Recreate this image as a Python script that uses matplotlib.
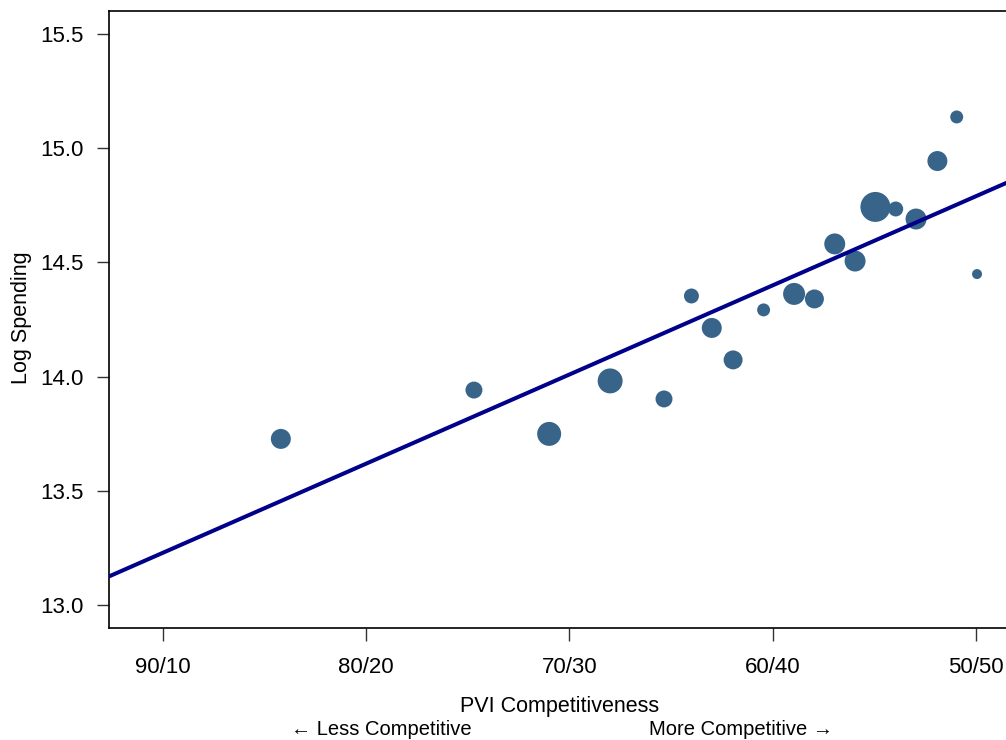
import numpy as np
import matplotlib
matplotlib.use("Agg")
import matplotlib.pyplot as plt

plt.rcParams['font.family'] = ['Liberation Sans', 'DejaVu Sans']

# minority share of the two-party vote (10 -> 90/10, 50 -> 50/50)
pvi = [15.8, 25.3, 29.0, 32.0, 34.65, 36.0, 37.0, 38.05, 39.55, 41.05,
       42.05, 43.05, 44.05, 45.05, 46.05, 47.05, 48.1, 49.05, 50.05]
log_spending = [13.727, 13.941, 13.749, 13.981, 13.902, 14.353, 14.213, 14.073,
                14.292, 14.362, 14.340, 14.581, 14.506, 14.743, 14.734, 14.690,
                14.944, 15.137, 14.449]
weights = [100, 72, 144, 156, 72, 56, 100, 90, 42, 121,
           90, 110, 110, 225, 56, 110, 100, 42, 25]

fit_intercept = 12.838
fit_slope = 0.03904

tick_pos = [10, 20, 30, 40, 50]
tick_labels = ['90/10', '80/20', '70/30', '60/40', '50/50']
ytick_pos = [13.0, 13.5, 14.0, 14.5, 15.0, 15.5]

fig = plt.figure(figsize=(10.06, 7.40), dpi=100)
ax = fig.add_axes([0.1083, 0.1514, 0.8927, 0.8337])

ax.scatter(pvi, log_spending, s=np.array(weights) * 2.07, color='#38648a',
           edgecolors='none', zorder=2)
ax.axline((0, fit_intercept), slope=fit_slope, color='#00008b', lw=2.9, zorder=3)

ax.set_xlim(7.343, 51.525)
ax.set_ylim(12.899, 15.601)
ax.set_xticks(tick_pos)
ax.set_xticklabels(tick_labels)
ax.set_yticks(ytick_pos)
ax.set_yticklabels(['%.1f' % v for v in ytick_pos])
ax.tick_params(axis='both', direction='out', length=9, width=1, labelsize=16,
               color='#333333')
ax.tick_params(axis='x', pad=12)
ax.tick_params(axis='y', pad=9)
for sp in ax.spines.values():
    sp.set_linewidth(1.2)

fig.text(22 / 1006, 1 - 318 / 740, 'Log Spending', rotation=90, fontsize=15.5,
         ha='center', va='center')
fig.text(560 / 1006, 1 - 712 / 740, 'PVI Competitiveness', fontsize=15.5,
         ha='center', va='baseline')
fig.text(381 / 1006, 1 - 735 / 740, '\u2190 Less Competitive', fontsize=14.5,
         ha='center', va='baseline')
fig.text(741 / 1006, 1 - 735 / 740, 'More Competitive \u2192', fontsize=14.5,
         ha='center', va='baseline')

fig.savefig('out.png', dpi=100)
